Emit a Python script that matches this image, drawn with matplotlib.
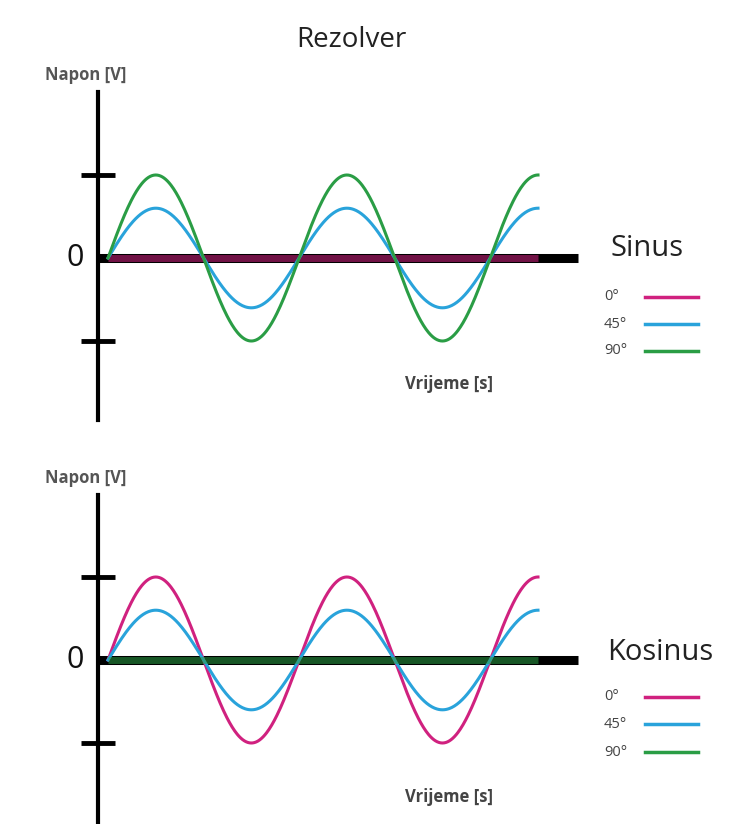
import numpy as np
import matplotlib.pyplot as plt
from matplotlib.lines import Line2D

plt.rcParams['font.family'] = ['Open Sans', 'DejaVu Sans']

W, H = 732, 824

angles = ["0°", "45°", "90°"]
colors = ["#d0217f", "#29a3db", "#2a9d45"]
sin_amps = [0.0, 0.6, 1.0]
cos_amps = [1.0, 0.6, 0.0]
periods = 2.25
y_ticks = [-1, 1]
x_label = "Vrijeme [s]"
y_label = "Napon [V]"


def fx(px):
    return px / W


def fy(py):
    return 1 - py / H


fig = plt.figure(figsize=(W / 100, H / 100), dpi=100)
fig.text(fx(351), fy(40), "Rezolver", ha="center", va="center", fontsize=20, color="#222222")

# name, amplitudes, axis top, axis bottom, zero line, xlabel y, legend ys
panels = [
    ("Sinus", sin_amps, 92, 420, 258, 384, 248, 610, [297, 324, 351]),
    ("Kosinus", cos_amps, 495, 824, 660, 797, 652, 607, [697, 724, 752]),
]

for name, amps, top, bot, zero, xl_y, name_y, name_x, leg_y in panels:
    ax = fig.add_axes([fx(98), fy(bot), fx(578) - fx(98), fy(top) - fy(bot)])
    unit = 83.0
    ax.set_ylim(-(bot - zero) / unit, (zero - top) / unit)
    scale = 430 / (periods * 2 * np.pi)
    ax.set_xlim(-10 / scale, 470 / scale)
    ax.patch.set_visible(False)

    ax.spines['top'].set_visible(False)
    ax.spines['right'].set_visible(False)
    ax.spines['left'].set_linewidth(3)
    ax.spines['bottom'].set_position(('data', 0))
    ax.spines['bottom'].set_linewidth(6.5)
    ax.spines['bottom'].set_capstyle('butt')
    ax.set_xticks([])
    ax.set_yticks(y_ticks)
    ax.set_yticklabels([])
    ax.tick_params(axis='y', direction='inout', length=25, width=3.5, color='black')

    t = np.linspace(0, periods * 2 * np.pi, 500)
    for amp, c in zip(amps, colors):
        if amp == 0:
            ax.plot(t, amp * np.sin(t), color=c, lw=5, alpha=0.55, zorder=3, solid_capstyle='butt')
        else:
            ax.plot(t, amp * np.sin(t), color=c, lw=2.2, zorder=3)

    fig.text(fx(75), fy(zero), "0", ha="center", va="center", fontsize=22, color="#111111")
    fig.text(fx(86), fy(top - 17), y_label, ha="center", va="center", fontsize=12,
             fontweight="bold", color="#555555")
    fig.text(fx(449), fy(xl_y), x_label, ha="center", va="center", fontsize=12,
             fontweight="bold", color="#444444")

    fig.text(fx(name_x), fy(name_y), name, ha="left", va="center", fontsize=21, color="#222222")
    for lab, c, y in zip(angles, colors, leg_y):
        fig.text(fx(604), fy(y), lab, ha="left", va="center", fontsize=10.5, color="#444444")
        fig.add_artist(Line2D([fx(645), fx(698)], [fy(y), fy(y)], color=c, lw=2.5))

fig.savefig("out.png", dpi=100)
